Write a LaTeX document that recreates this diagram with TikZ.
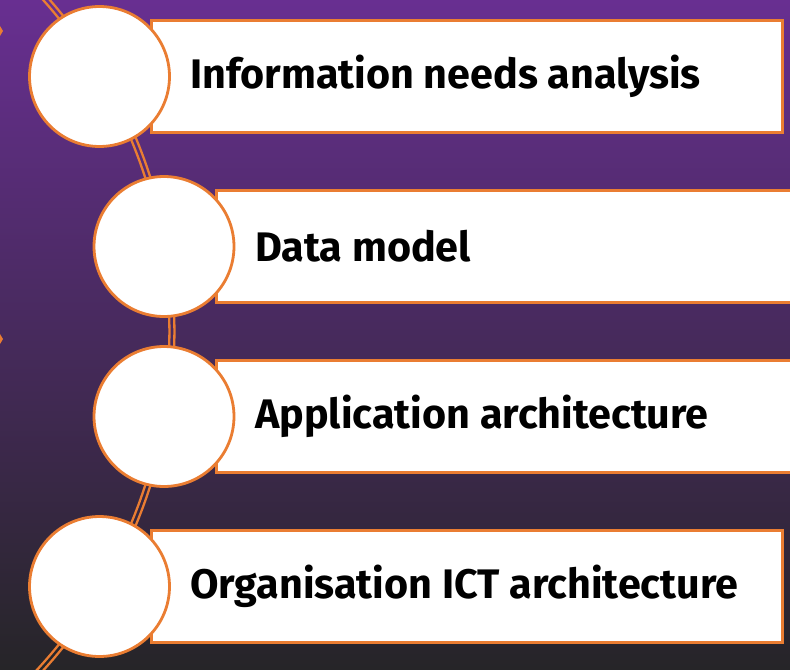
\documentclass[tikz,border=0pt]{standalone}
\usepackage{fontspec}
\setmainfont{Fira Sans}
\usetikzlibrary{shapes.geometric}

\definecolor{accent}{RGB}{234,125,50}
\definecolor{bgtop}{RGB}{104,47,145}
\definecolor{bgmid}{RGB}{70,43,96}
\definecolor{bgbot}{RGB}{38,37,40}

\begin{document}
\begin{tikzpicture}[x=0.02cm,y=-0.02cm,
    bar/.style={draw=accent,fill=white,line width=1.6pt,minimum width=12.62cm,minimum height=2.24cm,anchor=west},
    ball/.style={circle,draw=accent,fill=white,line width=1.6pt,minimum size=2.8cm,inner sep=0pt},
    caption/.style={anchor=west,font=\fontsize{23.5}{28}\selectfont\bfseries,text=black},
    track/.style={draw=accent,line width=1.3pt}]
            \useasboundingbox (0,0) rectangle (790,669);
            \shade[top color=bgtop,middle color=bgmid,bottom color=bgbot] (0,0) rectangle (790,669);
            \coordinate (o) at (-329,331.5);
            \draw[track] (o) circle[radius=9.97cm];
            \draw[track] (o) circle[radius=10.07cm];
            \fill[accent] (0,26) -- (3,31) -- (0,36) -- cycle;
            \fill[accent] (0,334) -- (3,339) -- (0,344) -- cycle;
            \node[bar] (b1) at (150,76.5) {};
            \node[bar] (b2) at (215,246.5) {};
            \node[bar] (b3) at (215,416.5) {};
            \node[bar] (b4) at (150,586.5) {};
            \node[ball] (c1) at (99.5,76.5) {};
            \node[ball] (c2) at (164,246.5) {};
            \node[ball] (c3) at (164,416.5) {};
            \node[ball] (c4) at (99.5,586.5) {};
            \node[caption] (t1) at (184,76.5) {Information needs analysis};
            \node[caption] (t2) at (249,246.5) {Data model};
            \node[caption] (t3) at (249,416.5) {Application architecture};
            \node[caption] (t4) at (184,586.5) {Organisation ICT architecture};
          \end{tikzpicture}
\end{document}
